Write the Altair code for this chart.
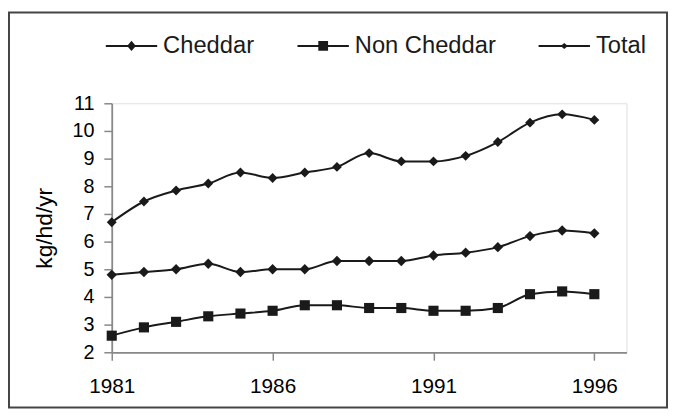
import altair as alt
import pandas as pd

years = list(range(1981, 1997))
cheddar = [4.8, 4.9, 5.0, 5.2, 4.9, 5.0, 5.0, 5.3, 5.3, 5.3, 5.5, 5.6, 5.8, 6.2, 6.4, 6.3]
non_cheddar = [2.6, 2.9, 3.1, 3.3, 3.4, 3.5, 3.7, 3.7, 3.6, 3.6, 3.5, 3.5, 3.6, 4.1, 4.2, 4.1]
total = [6.7, 7.45, 7.85, 8.1, 8.5, 8.3, 8.5, 8.7, 9.2, 8.9, 8.9, 9.1, 9.6, 10.3, 10.6, 10.4]
series_names = ["Cheddar", "Non Cheddar", "Total"]
x_ticks = [1981, 1986, 1991, 1996]
y_ticks = [2, 3, 4, 5, 6, 7, 8, 9, 10, 11]

rows = []
for name, vals in zip(series_names, [cheddar, non_cheddar, total]):
    for yr, v in zip(years, vals):
        rows.append({"year": yr, "value": v, "series": name})
df = pd.DataFrame(rows)

FONT = "Liberation Sans"
INK = "#1a1a1a"

x_axis = alt.Axis(values=x_ticks, format="d", title=None, grid=False,
                  labelFontSize=21, labelPadding=16, tickSize=8,
                  tickWidth=1.5, domainWidth=1.8, labelFlush=False,
                  labelOverlap=False)
y_axis = alt.Axis(values=y_ticks, title="kg/hd/yr", grid=False, format="d",
                  labelFontSize=20, labelPadding=10, tickSize=8,
                  tickWidth=1.5, domainWidth=1.8, labelOverlap=False,
                  labelFlush=False,
                  titleFontSize=23, titleFontWeight="normal",
                  titleX=-68, titleY=126, titleAngle=270,
                  titleAlign="center", titleBaseline="middle")
x_scale = alt.Scale(domain=[1981, 1997], nice=False, zero=False)
y_scale = alt.Scale(domain=[2, 11], nice=False, zero=False)


def xe():
    return alt.X("year:Q", scale=x_scale, axis=x_axis)


def ye():
    return alt.Y("value:Q", scale=y_scale, axis=y_axis)


base = alt.Chart(df)

lines = base.mark_line(interpolate="monotone", color=INK, strokeWidth=2).encode(
    x=xe(), y=ye(), detail="series:N")

points = base.mark_point(filled=True, color=INK, opacity=1).encode(
    x=xe(), y=ye(),
    shape=alt.Shape("series:N", scale=alt.Scale(domain=series_names,
                                                range=["diamond", "square", "diamond"]),
                    legend=None),
    size=alt.Size("series:N", scale=alt.Scale(domain=series_names, range=[110, 100, 45]),
                  legend=None),
)

legend_paths = [
    "M-1,-0.04H1V0.04H-1ZM0,-0.2L0.17,0L0,0.2L-0.17,0Z",
    "M-1,-0.04H1V0.04H-1ZM-0.19,-0.19H0.19V0.19H-0.19Z",
    "M-1,-0.04H1V0.04H-1ZM0,-0.12L0.14,0L0,0.12L-0.14,0Z",
]
legend_df = pd.DataFrame({"key": series_names, "year": [1985, 1990, 1995], "value": [50, 50, 50]})
legend_layer = alt.Chart(legend_df).mark_point(
    filled=True, color=INK, opacity=1, size=2704, clip=True
).encode(
    x=xe(), y=ye(),
    shape=alt.Shape("key:N", scale=alt.Scale(domain=series_names, range=legend_paths),
                    legend=alt.Legend(title=None, orient="none", legendX=-6, legendY=-84,
                                      direction="horizontal", columnPadding=43,
                                      labelFontSize=24, labelFont=FONT, labelColor=INK,
                                      labelOffset=6, symbolSize=2704,
                                      symbolFillColor=INK, symbolStrokeWidth=0,
                                      symbolOpacity=1, padding=0)),
)

frame = alt.Chart(alt.Data(values=[{"a": 1}])).mark_rect(
    fill=None, stroke="#444", strokeWidth=2
).encode(x=alt.value(-104), x2=alt.value(562), y=alt.value(-92), y2=alt.value(308))

chart = alt.layer(frame, lines, points, legend_layer).resolve_scale(
    shape="independent", size="independent"
).properties(
    width=521, height=252,
    autosize=alt.AutoSizeParams(type="none"),
    padding={"left": 105, "top": 94, "right": 43, "bottom": 58},
).configure_view(stroke=None).configure_axis(
    labelFont=FONT, titleFont=FONT, labelColor=INK, titleColor=INK,
    domainColor=INK, tickColor=INK,
).configure(background="white")

chart.save("out.html", embed_options={"renderer": "svg", "actions": False})
